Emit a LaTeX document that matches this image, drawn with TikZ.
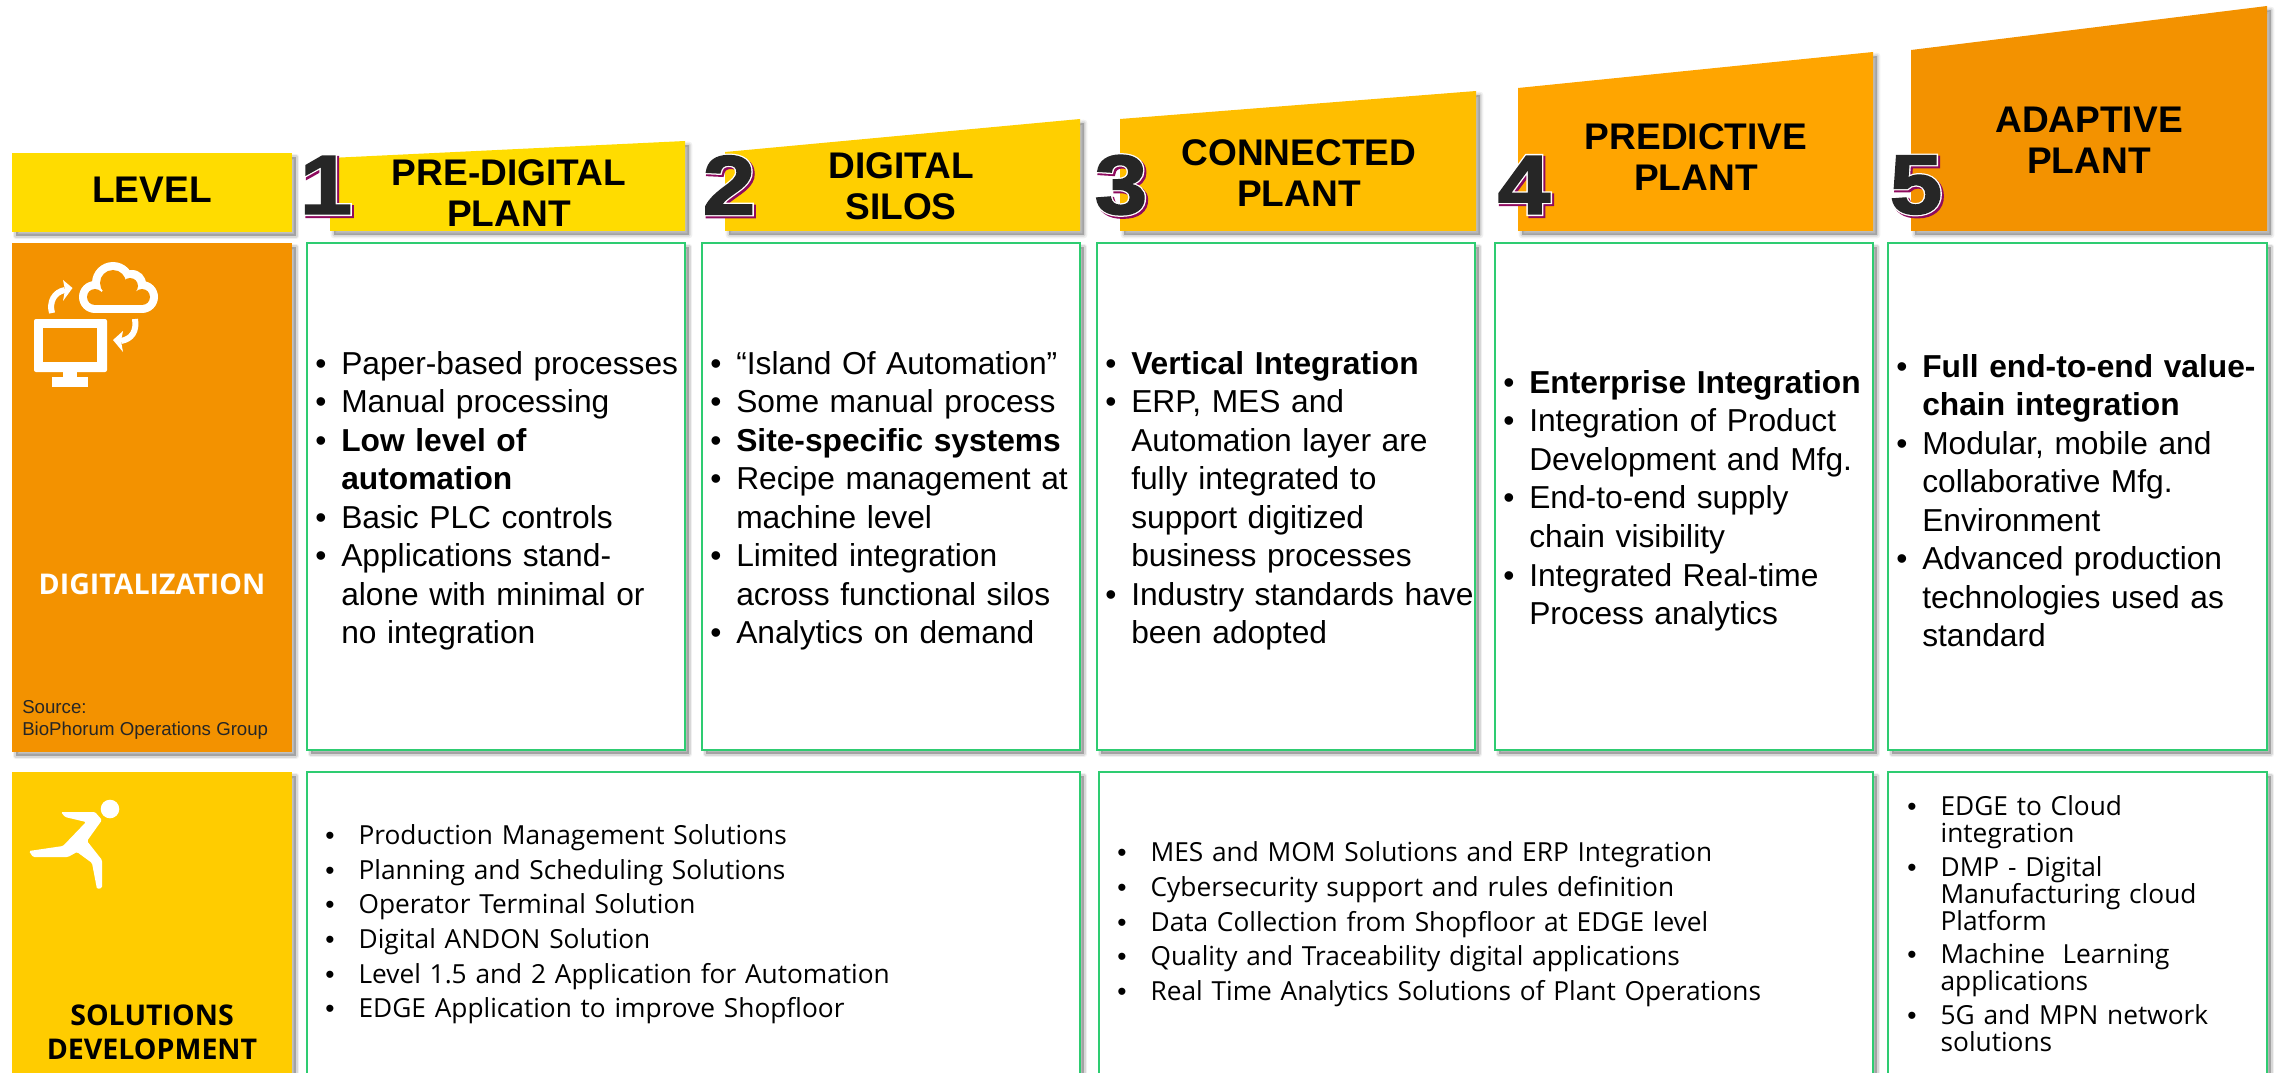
\documentclass[tikz,border=0pt]{standalone}
\usepackage{fontspec}
\setmainfont{Liberation Sans}
\newfontfamily\uifont{Open Sans}
\newfontfamily\arialf{Liberation Sans}
\newfontfamily\digitdark[FakeBold=2]{Liberation Sans Bold}
\newfontfamily\digitwhite[FakeBold=5]{Liberation Sans Bold}
\definecolor{cLevel}{HTML}{FFDC00}
\definecolor{cTwo}{HTML}{FFCF00}
\definecolor{cThree}{HTML}{FFBE00}
\definecolor{cFour}{HTML}{FFA500}
\definecolor{cFive}{HTML}{F39200}
\definecolor{cSol}{HTML}{FFCC00}
\definecolor{cGreen}{HTML}{2ECC71}
\definecolor{cDigit}{HTML}{262626}
\definecolor{cPurple}{HTML}{8E0A5E}
\tikzset{
  softshadow/.style={
    preaction={draw=black,fill=black,draw opacity=.06,fill opacity=.06,line width=5pt,line join=round,transform canvas={xshift=3pt,yshift=-3pt}},
    preaction={draw=black,fill=black,draw opacity=.1,fill opacity=.1,line width=2.5pt,line join=round,transform canvas={xshift=3pt,yshift=-3pt}},
    preaction={fill=black,fill opacity=.1,transform canvas={xshift=3pt,yshift=-3pt}}},
  panel/.style={softshadow,fill=white,draw=cGreen,line width=1.5pt},
  band/.style={softshadow},
  headtext/.style={font=\fontsize{27.8}{30.5}\selectfont\bfseries,align=center,inner sep=0pt,text=black},
  bodylist/.style={font=\fontsize{23.8}{28.9}\selectfont,anchor=west,text width=300pt,align=left,inner sep=0pt,text=black},
  sollist/.style={font=\uifont\fontsize{19.7}{26}\selectfont,anchor=west,text width=520pt,align=left,inner sep=0pt,text=black},
  tightlist/.style={font=\uifont\fontsize{19.7}{20.2}\selectfont,anchor=west,text width=270pt,align=left,inner sep=0pt,text=black},
  sidetext/.style={font=\uifont\fontsize{21.4}{25.5}\selectfont\bfseries,align=center,inner sep=0pt},
  icon/.style={fill=white,draw=none},
  numtext/.style={inner sep=0pt,xscale=1.12},
}
\newcommand\bodyitem{\par\leavevmode\llap{\hbox to 19.5pt{•\hfil}}}
\newcommand\solitem{\par\leavevmode\llap{\hbox to 25pt{{\arialf•}\hfil}}}
\newcommand\bignum[3]{%
  \node[numtext,text=cPurple,font=\digitwhite\fontsize{63}{63}\selectfont] (#1s) at (#2+2,187) {#3};
  \node[numtext,text=white,font=\digitwhite\fontsize{63}{63}\selectfont] (#1w) at (#2,185) {#3};
  \node[numtext,text=cDigit,font=\digitdark\fontsize{63}{63}\selectfont] (#1) at (#2,185) {#3};
}
\begin{document}
\begin{tikzpicture}[x=.75pt,y=-.75pt]
\path[use as bounding box] (0,0) rectangle (2277,1073);
\clip (0,0) rectangle (2277,1073);

% header bands
\fill[band,cLevel] (12,153) rectangle (292,232);
\fill[band,cLevel] (330,158) -- (685,141) -- (685,231) -- (330,231) -- cycle;
\fill[band,cTwo] (725,152) -- (1080,119) -- (1080,231) -- (725,231) -- cycle;
\fill[band,cThree] (1120,119) -- (1476,91) -- (1476,231) -- (1120,231) -- cycle;
\fill[band,cFour] (1518,88) -- (1873,52) -- (1873,231) -- (1518,231) -- cycle;
\fill[band,cFive] (1911,50) -- (2267,6) -- (2267,231) -- (1911,231) -- cycle;

% side panels
\fill[band,cFive] (12,243) rectangle (292,752);
\fill[band,cSol] (12,772) rectangle (292,1100);

% digitalization panels
\path[panel] (307,243) rectangle (685,750);
\path[panel] (702,243) rectangle (1080,750);
\path[panel] (1097,243) rectangle (1475,750);
\path[panel] (1495,243) rectangle (1873,750);
\path[panel] (1888,243) rectangle (2267,750);

% solutions panels
\path[panel] (307,772) rectangle (1080,1100);
\path[panel] (1099,772) rectangle (1873,1100);
\path[panel] (1888,772) rectangle (2267,1100);

% header text
\node[headtext] (tLevel) at (152,190) {LEVEL};
\node[headtext] (tOne) at (509,193) {PRE-DIGITAL\\PLANT};
\node[headtext] (tTwo) at (901,186) {DIGITAL\\SILOS};
\node[headtext] (tThree) at (1299,173) {CONNECTED\\PLANT};
\node[headtext] (tFour) at (1696,157) {PREDICTIVE\\PLANT};
\node[headtext] (tFive) at (2089,140) {ADAPTIVE\\PLANT};

\bignum{nOne}{326}{1}
\bignum{nTwo}{729}{2}
\bignum{nThree}{1121}{3}
\bignum{nFour}{1524}{4}
\bignum{nFive}{1916}{5}

% monitor and cloud icon
\fill[icon,rounded corners=1.5pt] (34,319) rectangle (107,372);
\fill[cFive] (43,328) rectangle (97,362);
\fill[icon] (63,372) rectangle (77,378);
\fill[icon] (52,377) rectangle (88,387);
\fill[icon] (95,297) circle (16);
\fill[icon] (113,283) circle (21);
\fill[icon] (132,284) circle (14);
\fill[icon] (142,297) circle (16);
\fill[icon] (95,290) rectangle (142,313);
\fill[cFive] (95,297) circle (8);
\fill[cFive] (113,283) circle (13);
\fill[cFive] (130,286) circle (8);
\fill[cFive] (142,297) circle (8);
\fill[cFive] (95,297) -- (113,283) -- (130,286) -- (142,297) -- (142,305) -- (95,305) -- cycle;
\draw[white,line width=4.5pt] (52,313) .. controls (49,302) and (54,292) .. (65,290);
\fill[icon] (63,280) -- (72.5,288) -- (63,301) -- (65,290) -- cycle;
\draw[white,line width=4.5pt] (135,319) .. controls (137,331) and (132,339) .. (121,341);
\fill[icon] (123,331) -- (113,340) -- (123,352) -- (121,341) -- cycle;

% runner icon
\fill[icon] (110,809) circle (9.3);
\fill[icon,rounded corners=1pt] (61,812) -- (95,812) -- (102,820) -- (87,841) -- (102,860) -- (102,888) -- (97,889) -- (92,863) -- (77,852) -- (68,857) -- (33,857) -- (29,851) -- (63,846) -- (86,822) -- (65,817) -- cycle;

% side labels
\node[sidetext,text=white] (tDig) at (152,584) {DIGITALIZATION};
\node[sidetext,text=black] (tSol) at (152,1032) {SOLUTIONS\\DEVELOPMENT};
\node[anchor=west,align=left,inner sep=0pt,text=black!85,font=\fontsize{14}{16.5}\selectfont] (tSrc) at (22,720) {Source:\\BioPhorum Operations Group};

% digitalization lists
\node[bodylist] (lOne) at (315,493) {\leftskip=19.5pt
\bodyitem Paper-based processes
\bodyitem Manual processing
\bodyitem \textbf{Low level of}\\\textbf{automation}
\bodyitem Basic PLC controls
\bodyitem Applications stand-\\alone with minimal or\\no integration\par};
\node[bodylist] (lTwo) at (710,493) {\leftskip=19.5pt
\bodyitem “Island Of Automation”
\bodyitem Some manual process
\bodyitem \textbf{Site-specific systems}
\bodyitem Recipe management at\\machine level
\bodyitem Limited integration\\across functional silos
\bodyitem Analytics on demand\par};
\node[bodylist] (lThree) at (1105,493) {\leftskip=19.5pt
\bodyitem \textbf{Vertical Integration}
\bodyitem ERP, MES and\\Automation layer are\\fully integrated to\\support digitized\\business processes
\bodyitem Industry standards have\\been adopted\par};
\node[bodylist] (lFour) at (1503,493) {\leftskip=19.5pt
\bodyitem \textbf{Enterprise Integration}
\bodyitem Integration of Product\\Development and Mfg.
\bodyitem End-to-end supply\\chain visibility
\bodyitem Integrated Real-time\\Process analytics\par};
\node[bodylist] (lFive) at (1896,493) {\leftskip=19.5pt
\bodyitem \textbf{Full end-to-end value-}\\\textbf{chain integration}
\bodyitem Modular, mobile and\\collaborative Mfg.\\Environment
\bodyitem Advanced production\\technologies used as\\standard\par};

% solutions lists
\node[sollist] (sOne) at (325,917) {\leftskip=25pt
\solitem Production Management Solutions
\solitem Planning and Scheduling Solutions
\solitem Operator Terminal Solution
\solitem Digital ANDON Solution
\solitem Level 1.5 and 2 Application for Automation
\solitem EDGE Application to improve Shopfloor\par};
\node[sollist] (sTwo) at (1117,917) {\leftskip=25pt
\solitem MES and MOM Solutions and ERP Integration
\solitem Cybersecurity support and rules definition
\solitem Data Collection from Shopfloor at EDGE level
\solitem Quality and Traceability digital applications
\solitem Real Time Analytics Solutions of Plant Operations\par};
\node[tightlist] (sThree) at (1907,917) {\leftskip=25pt\parskip=5pt
\solitem EDGE to Cloud\\integration
\solitem DMP - Digital\\Manufacturing cloud\\Platform
\solitem Machine~~Learning\\applications
\solitem 5G and MPN network\\solutions\par};
\end{tikzpicture}
\end{document}
